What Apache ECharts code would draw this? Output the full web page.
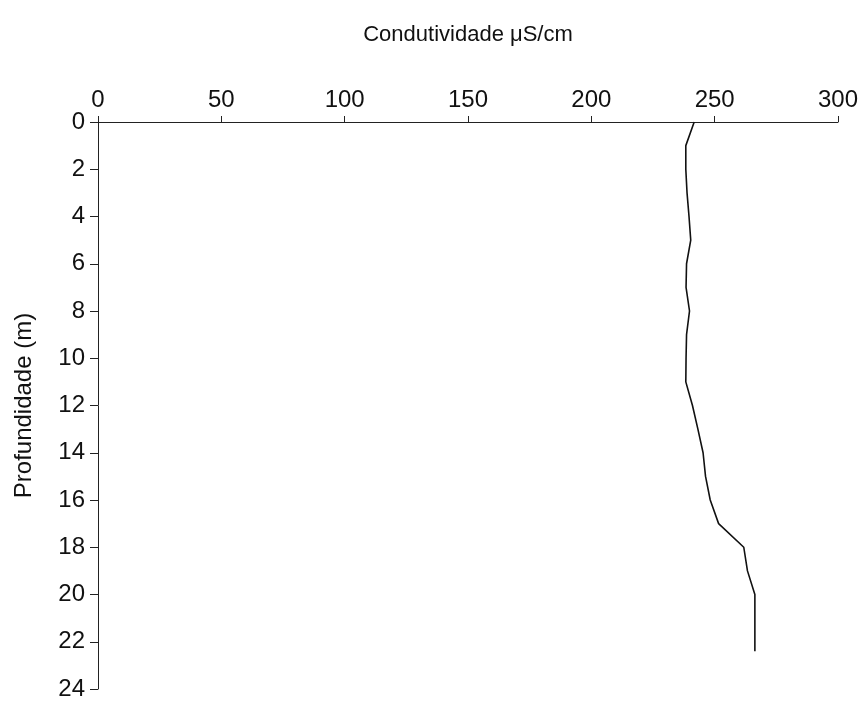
<!DOCTYPE html>
<html>
<head>
<meta charset="utf-8">
<script src="https://cdn.jsdelivr.net/npm/echarts@6/dist/echarts.min.js"></script>
<style>
    html, body { margin: 0; padding: 0; background: #fff; }
    #chart { width: 864px; height: 704px; }
</style>
</head>
<body>
<div id="chart"></div>
<script>
    var depth = [0, 1, 2, 3, 4, 5, 6, 7, 8, 9, 10, 11, 12, 13, 14, 15, 16, 17, 18, 19, 20, 21, 22.4];
    var conductivity = [241.7, 238.3, 238.3, 238.8, 239.6, 240.3, 238.6, 238.4, 239.8, 238.6, 238.4, 238.3,
        241.0, 243.2, 245.3, 246.3, 248.2, 251.6, 261.8, 263.3, 266.3, 266.3, 266.3];
    var xTitle = 'Condutividade \u03bcS/cm';
    var yTitle = 'Profundidade (m)';

    var font = '"Liberation Sans", Arial, sans-serif';
    var points = depth.map(function (d, i) {
        return [conductivity[i], d];
    });

    var chart = echarts.init(document.getElementById('chart'));
    chart.setOption({
        animation: false,
        backgroundColor: '#fff',
        grid: {
            left: 98,
            right: 26,
            top: 122,
            bottom: 15
        },
        xAxis: {
            type: 'value',
            position: 'top',
            min: 0,
            max: 300,
            interval: 50,
            name: xTitle,
            nameLocation: 'middle',
            nameGap: 76,
            nameTextStyle: {
                color: '#111',
                fontSize: 22,
                fontFamily: font
            },
            axisLine: {
                show: true,
                lineStyle: { color: '#222', width: 1 }
            },
            axisTick: {
                show: true,
                length: 6,
                lineStyle: { color: '#222' }
            },
            axisLabel: {
                color: '#111',
                fontSize: 24,
                fontFamily: font,
                margin: 10
            },
            splitLine: { show: false }
        },
        yAxis: {
            type: 'value',
            inverse: true,
            min: 0,
            max: 24,
            interval: 2,
            name: yTitle,
            nameLocation: 'middle',
            nameGap: 62,
            nameTextStyle: {
                color: '#111',
                fontSize: 24,
                fontFamily: font
            },
            axisLine: {
                show: true,
                lineStyle: { color: '#222', width: 1 }
            },
            axisTick: {
                show: true,
                length: 8,
                lineStyle: { color: '#222' }
            },
            axisLabel: {
                color: '#111',
                fontSize: 24,
                fontFamily: font,
                margin: 13
            },
            splitLine: { show: false }
        },
        series: [
            {
                type: 'line',
                data: points,
                symbol: 'none',
                lineStyle: {
                    color: '#111',
                    width: 1.6
                }
            }
        ]
    });
</script>
</body>
</html>
